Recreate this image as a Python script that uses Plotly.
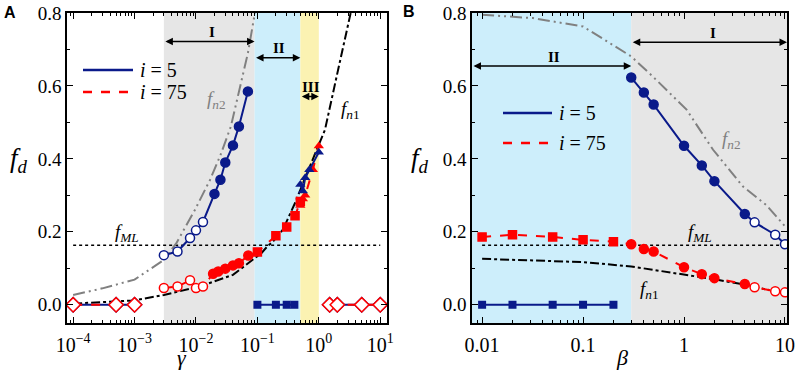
import numpy as np
import plotly.graph_objects as go

# ---------------- data: panel A (x = gamma) ----------------
A_i5_x = [0.003, 0.005, 0.008, 0.010, 0.013, 0.020, 0.025, 0.030, 0.040, 0.050, 0.070]
A_i5_y = [0.136, 0.146, 0.183, 0.204, 0.227, 0.304, 0.343, 0.390, 0.437, 0.489, 0.585]
A_i5_open = [True, True, True, True, True, False, False, False, False, False, False]

A_i75_x = [0.003, 0.005, 0.008, 0.010, 0.013, 0.019, 0.023, 0.030, 0.040, 0.050, 0.071,
           0.10, 0.20, 0.30, 0.41, 0.50]
A_i75_y = [0.046, 0.050, 0.067, 0.046, 0.050, 0.085, 0.091, 0.099, 0.108, 0.114, 0.135,
           0.145, 0.189, 0.213, 0.244, 0.283]
A_i75_sym = ['o'] * 5 + ['c'] * 6 + ['s'] * 5

A_i75_tri_x = [0.50, 0.55, 0.60, 0.80, 1.0]
A_i75_tri_y = [0.272, 0.290, 0.300, 0.370, 0.435]
A_i5_tri_x = [0.50, 0.55, 0.60, 0.70, 1.0]
A_i5_tri_y = [0.330, 0.312, 0.348, 0.370, 0.418]

A_i5_sq_x = [0.1, 0.2, 0.3, 0.4]
A_i5_sq_y = [0.0, 0.0, 0.0, 0.0]

A_dia_left_x = [1e-4, 5e-4, 1e-3]
A_dia_right_x = [1.5, 2.0, 5.0, 10.0]
A_dia_y = 0.0

A_fn1_x = [1e-4, 1e-3, 0.003, 0.0115, 0.040, 0.117, 0.15, 0.17, 0.26, 0.41, 0.63, 1.0, 1.26, 1.95, 3.3]
A_fn1_y = [0.003, 0.012, 0.027, 0.050, 0.082, 0.142, 0.163, 0.169, 0.206, 0.279, 0.357, 0.439, 0.480, 0.626, 0.800]

A_fn2_x = [1e-4, 3e-4, 1e-3, 0.003, 0.0048, 0.0096, 0.017, 0.025, 0.037, 0.050, 0.070, 0.091]
A_fn2_y = [0.027, 0.045, 0.069, 0.123, 0.169, 0.260, 0.343, 0.410, 0.489, 0.585, 0.690, 0.800]

A_fML = 0.163
A_line_x = [1e-4, 10.0]

A_regions = [(0.003, 0.09, '#e6e6e6'), (0.09, 0.5, '#cdeefb'), (0.5, 1.0, '#fbf2b2')]
A_ticks = [1e-4, 1e-3, 1e-2, 1e-1, 1, 10]
A_ticktext = ['10<sup>−4</sup>', '10<sup>−3</sup>', '10<sup>−2</sup>', '10<sup>−1</sup>',
              '10<sup>0</sup>', '10<sup>1</sup>']

# ---------------- data: panel B (x = beta) ----------------
B_i5_x = [0.3, 0.4, 0.5, 1.0, 1.5, 2.0, 4.0, 5.0, 8.0, 10.0]
B_i5_y = [0.623, 0.582, 0.549, 0.436, 0.382, 0.339, 0.249, 0.226, 0.192, 0.166]
B_i5_open = [False] * 7 + [True] * 3

B_i5_sq_x = [0.01, 0.02, 0.05, 0.1, 0.2]
B_i5_sq_y = [0.0, 0.0, 0.0, 0.0, 0.0]

B_i75_x = [0.01, 0.02, 0.05, 0.1, 0.2, 0.3, 0.4, 0.5, 1.0, 1.5, 2.0, 4.0, 5.0, 8.0, 10.0]
B_i75_y = [0.186, 0.192, 0.186, 0.178, 0.173, 0.166, 0.153, 0.146, 0.103, 0.084, 0.073, 0.057,
           0.048, 0.037, 0.034]
B_i75_sym = ['s'] * 5 + ['c'] * 7 + ['o'] * 3

B_fn1_x = [0.01, 0.03, 0.1, 0.3, 1.0, 2.0, 4.0, 7.0]
B_fn1_y = [0.126, 0.122, 0.117, 0.105, 0.084, 0.070, 0.055, 0.040]

B_fn2_x = [0.01, 0.032, 0.1, 0.23, 0.3, 0.49, 1.06, 1.94, 3.84, 6.5, 10.0]
B_fn2_y = [0.795, 0.786, 0.763, 0.699, 0.681, 0.626, 0.535, 0.425, 0.324, 0.274, 0.215]

B_fML = 0.163
B_line_x = [0.01, 10.0]

B_regions = [(0.0079, 0.3, '#cdeefb'), (0.3, 10.5, '#e6e6e6')]
B_ticks = [0.01, 0.1, 1, 10]
B_ticktext = ['0.01', '0.1', '1', '10']

# ---------------- styling ----------------
NAVY = '#0a1a8a'
RED = '#ff0000'
GRAY = '#808080'
SERIF = 'Liberation Serif, Times New Roman, DejaVu Serif, serif'
W, H = 796, 372

fig = go.Figure()


def marker_spec(syms, color):
    symbol_map = {'o': 'circle', 'c': 'circle', 's': 'square'}
    return dict(
        symbol=[symbol_map[s] for s in syms],
        color=['white' if s == 'o' else color for s in syms],
        size=[9 if s != 's' else 8 for s in syms],
        line=dict(color=color, width=1.5), opacity=1,
    )


def add_panel(xa, ya, traces):
    for t in traces:
        t.update(xaxis=xa, yaxis=ya, showlegend=False, hoverinfo='skip')
        fig.add_trace(t)


DASHDOTDOT = '12px,4px,2px,4px,2px,4px'

# Panel A traces
add_panel('x', 'y', [
    go.Scatter(x=A_line_x, y=[A_fML] * 2, mode='lines', line=dict(color='black', width=1.5, dash='dot')),
    go.Scatter(x=A_fn2_x, y=A_fn2_y, mode='lines', line=dict(color=GRAY, width=2, dash=DASHDOTDOT)),
    go.Scatter(x=A_fn1_x, y=A_fn1_y, mode='lines', line=dict(color='black', width=2, dash='dashdot')),
    go.Scatter(x=A_i5_x, y=A_i5_y, mode='lines+markers', line=dict(color=NAVY, width=2),
               marker=marker_spec(['o' if o else 'c' for o in A_i5_open], NAVY)),
    go.Scatter(x=A_i5_sq_x, y=A_i5_sq_y, mode='lines+markers', line=dict(color=NAVY, width=2),
               marker=dict(symbol='square', color=NAVY, size=8, opacity=1)),
    go.Scatter(x=A_dia_left_x + [None] + A_dia_right_x,
               y=[A_dia_y] * len(A_dia_left_x) + [None] + [A_dia_y] * len(A_dia_right_x),
               mode='lines+markers', line=dict(color=NAVY, width=2),
               marker=dict(symbol='diamond', color='white', size=11, opacity=1, line=dict(color=NAVY, width=1.5))),
    go.Scatter(x=A_i75_x, y=A_i75_y, mode='lines+markers', line=dict(color=RED, width=2, dash='dash'),
               marker=marker_spec(A_i75_sym, RED)),
    go.Scatter(x=A_i75_tri_x, y=A_i75_tri_y, mode='lines+markers', line=dict(color=RED, width=2, dash='dash'),
               marker=dict(symbol='triangle-up', color=RED, size=9, opacity=1)),
    go.Scatter(x=A_i5_tri_x, y=A_i5_tri_y, mode='lines+markers', line=dict(color=NAVY, width=2),
               marker=dict(symbol='triangle-up', color=NAVY, size=9, opacity=1)),
    go.Scatter(x=A_dia_left_x + [None] + A_dia_right_x,
               y=[A_dia_y] * len(A_dia_left_x) + [None] + [A_dia_y] * len(A_dia_right_x),
               mode='lines+markers', line=dict(color=RED, width=2, dash='dash'),
               marker=dict(symbol='diamond', color='white', size=11, opacity=1, line=dict(color=RED, width=1.5))),
])

# Panel B traces
add_panel('x2', 'y2', [
    go.Scatter(x=B_line_x, y=[B_fML] * 2, mode='lines', line=dict(color='black', width=1.5, dash='dot')),
    go.Scatter(x=B_fn2_x, y=B_fn2_y, mode='lines', line=dict(color=GRAY, width=2, dash=DASHDOTDOT)),
    go.Scatter(x=B_fn1_x, y=B_fn1_y, mode='lines', line=dict(color='black', width=2, dash='dashdot')),
    go.Scatter(x=B_i5_sq_x, y=B_i5_sq_y, mode='lines+markers', line=dict(color=NAVY, width=2),
               marker=dict(symbol='square', color=NAVY, size=8, opacity=1)),
    go.Scatter(x=B_i5_x, y=B_i5_y, mode='lines+markers', line=dict(color=NAVY, width=2),
               marker=marker_spec(['o' if o else 'c' for o in B_i5_open], NAVY)),
    go.Scatter(x=B_i75_x, y=B_i75_y, mode='lines+markers', line=dict(color=RED, width=2, dash='dash'),
               marker=marker_spec(B_i75_sym, RED)),
])


def P(px, py):
    return px / W, 1 - py / H


# Regions (shapes on log axes take data values in plotly 6)
shapes = []
for x0, x1, c in A_regions:
    shapes.append(dict(type='rect', xref='x', yref='y domain', x0=x0, x1=x1,
                       y0=0, y1=1, fillcolor=c, line=dict(width=0), layer='below'))
for x0, x1, c in B_regions:
    shapes.append(dict(type='rect', xref='x2', yref='y2 domain', x0=x0, x1=x1,
                       y0=0, y1=1, fillcolor=c, line=dict(width=0), layer='below'))

ann = []
TXT = dict(family=SERIF, size=20, color='black')
# Legend samples (figure pixel positions -> paper coords; margins are zero)
for px0, px1, ptx, py5, py75 in [(83, 133, 138, 70, 92), (503, 552, 557, 113, 143)]:
    for py, col, dash, label in [(py5, NAVY, 'solid', '<i>i</i> = 5'), (py75, RED, 'dash', '<i>i</i> = 75')]:
        x0, y0 = P(px0, py)
        x1, _ = P(px1, py)
        shapes.append(dict(type='line', xref='paper', yref='paper', x0=x0, x1=x1, y0=y0, y1=y0,
                           line=dict(color=col, width=2.5, dash=dash)))
        tx, ty = P(ptx, py)
        ann.append(dict(xref='paper', yref='paper', x=tx, y=ty, text=label, showarrow=False,
                        xanchor='left', yanchor='middle', font=TXT))

# Curve labels
LBL = dict(family=SERIF, size=19)
for xr, yr, lx, ly, txt, col in [
    ('x', 'y', -1.665, 0.562, '<i>f</i><sub><i>n</i>2</sub>', GRAY),
    ('x', 'y', 0.52, 0.535, '<i>f</i><sub><i>n</i>1</sub>', 'black'),
    ('x', 'y', -3.13, 0.197, '<i>f</i><sub><i>ML</i></sub>', 'black'),
    ('x2', 'y2', 0.47, 0.453, '<i>f</i><sub><i>n</i>2</sub>', GRAY),
    ('x2', 'y2', 0.155, 0.197, '<i>f</i><sub><i>ML</i></sub>', 'black'),
    ('x2', 'y2', -0.34, 0.041, '<i>f</i><sub><i>n</i>1</sub>', 'black'),
]:
    ann.append(dict(xref=xr, yref=yr, x=lx, y=ly, text=txt, showarrow=False,
                    font=dict(color=col, **LBL)))

# Region arrows and numerals (annotations on log axes use log10 positions)
ARW = dict(showarrow=True, arrowside='end+start', arrowhead=2, arrowsize=1, arrowwidth=1.5,
           arrowcolor='black', text='', standoff=0, startstandoff=0)
for xr, yr, xa0, xa1, yv in [('x', 'y', np.log10(0.003), np.log10(0.09), 0.722),
                             ('x', 'y', np.log10(0.09), np.log10(0.5), 0.677),
                             ('x', 'y', np.log10(0.5), np.log10(1.0), 0.571),
                             ('x2', 'y2', np.log10(0.3), 1.02, 0.72),
                             ('x2', 'y2', -2.1, np.log10(0.3), 0.655)]:
    ann.append(dict(xref=xr, yref=yr, axref=xr, ayref=yr, x=xa1, y=yv, ax=xa0, ay=yv, **ARW))

ROM = dict(family=SERIF, size=15, color='black')
for xr, yr, lx, ly, txt in [('x', 'y', -1.745, 0.748, '<b>I</b>'), ('x', 'y', -0.65, 0.703, '<b>II</b>'),
                            ('x', 'y', -0.134, 0.598, '<b>III</b>'), ('x2', 'y2', 0.286, 0.745, '<b>I</b>'),
                            ('x2', 'y2', -1.287, 0.678, '<b>II</b>')]:
    ann.append(dict(xref=xr, yref=yr, x=lx, y=ly, text=txt, showarrow=False, font=ROM))

# Axis titles & panel letters
for (px, py), txt, fnt, ya in [
    ((19, 160), '<i>f<sub>d</sub></i>', dict(family=SERIF, size=27), 'middle'),
    ((420, 160), '<i>f<sub>d</sub></i>', dict(family=SERIF, size=27), 'middle'),
    ((182, 372), '<i>γ</i>', dict(family=SERIF, size=22), 'bottom'),
    ((622, 372), '<i>β</i>', dict(family=SERIF, size=22), 'bottom'),
    ((10, 13), '<b>A</b>', dict(family='Liberation Sans, Arial, sans-serif', size=16), 'middle'),
    ((409, 12), '<b>B</b>', dict(family='Liberation Sans, Arial, sans-serif', size=16), 'middle'),
]:
    x, y = P(px, py)
    ann.append(dict(xref='paper', yref='paper', x=x, y=y, text=txt, showarrow=False,
                    xanchor='center', yanchor=ya, font=fnt))


def minor_vals(lo, hi):
    return [k * 10.0 ** d for d in range(-6, 3) for k in range(2, 10) if lo <= k * 10.0 ** d <= hi]


AX = dict(showline=True, linecolor='black', linewidth=1.5, mirror='allticks', ticks='inside',
          ticklen=6, tickwidth=1.3, tickcolor='black', showgrid=False, zeroline=False, automargin=False,
          tickfont=dict(family=SERIF, size=19, color='black'))
XAX = dict(AX, tickfont=dict(family=SERIF, size=20, color='black'), ticklabelstandoff=3, type='log',
           tickmode='array')
YAX = dict(AX, range=[-0.05, 0.8], tick0=0, dtick=0.2, tickformat='.1f', domain=[1 - 323 / H, 1 - 13 / H],
           minor=dict(dtick=0.1, ticks='inside', ticklen=3, tickcolor='black', showgrid=False))

fig.update_layout(
    template='none',
    width=W, height=H, paper_bgcolor='white', plot_bgcolor='white',
    margin=dict(l=0, r=0, t=0, b=0, pad=0, autoexpand=False),
    font=dict(family=SERIF, color='black'),
    xaxis=dict(XAX, domain=[67 / W, 387 / W], range=[-4.1, 1.11],
               tickvals=A_ticks, ticktext=A_ticktext,
               minor=dict(tickmode='array', tickvals=minor_vals(10 ** -4.1, 10 ** 1.11),
                          ticks='inside', ticklen=3, tickcolor='black', showgrid=False)),
    yaxis=dict(YAX, anchor='x'),
    xaxis2=dict(XAX, domain=[472 / W, 787 / W], range=[-2.1, 1.02], anchor='y2',
                tickvals=B_ticks, ticktext=B_ticktext,
                minor=dict(tickmode='array', tickvals=minor_vals(10 ** -2.1, 10 ** 1.02),
                           ticks='inside', ticklen=3, tickcolor='black', showgrid=False)),
    yaxis2=dict(YAX, anchor='x2'),
    shapes=shapes, annotations=ann,
)

fig.write_html('out.html', config={'displayModeBar': False},
               post_script="document.body.style.margin='0';")
